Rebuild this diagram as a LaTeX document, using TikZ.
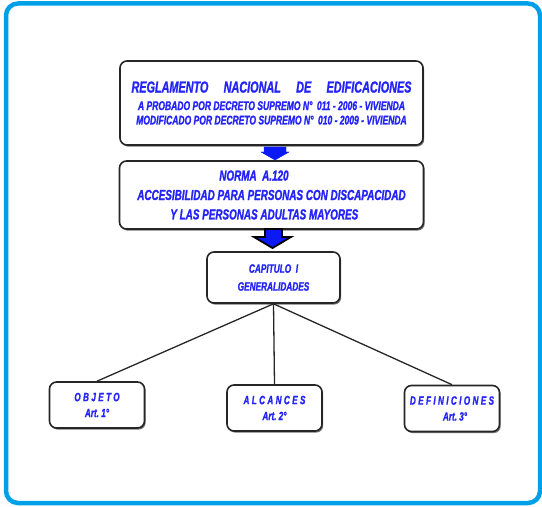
\documentclass[tikz,border=0pt]{standalone}
\usepackage{fontspec}
\newfontfamily\condfont[FakeStretch=0.68, FakeBold=1.2]{Liberation Sans}
\usetikzlibrary{shadows}
\definecolor{framecyan}{RGB}{0,160,233}
\definecolor{titleblue}{RGB}{35,35,250}
\definecolor{arrowblue}{RGB}{10,25,245}

\begin{document}
\begin{tikzpicture}[x=1bp, y=-1bp,
  font=\condfont\bfseries\itshape, text=titleblue,
  box/.style={draw=black!85, line width=1.6bp, rounded corners=7bp, fill=white,
              inner sep=0pt, drop shadow={shadow xshift=1.2bp, shadow yshift=-1.6bp,
              fill=black!55, opacity=1}},
  art/.style={box, align=center, minimum width=95bp, minimum height=46bp,
              font=\condfont\bfseries\itshape\fontsize{12}{16}\selectfont},
  link/.style={draw=black!85, line width=1.3bp},
  blockarr/.style={fill=arrowblue, line join=miter}]
\useasboundingbox (0,0) rectangle (542,507);
\draw[framecyan, line width=4.5bp, rounded corners=12bp] (6,3.5) rectangle (540,503);
% upper chain
\node[box, align=center, minimum width=303bp, minimum height=84bp,
      font=\condfont\bfseries\itshape\fontsize{12.6}{14.5}\selectfont] (rne) at (271.5,103)
  {{\fontsize{16}{16}\selectfont\makebox[280bp][s]{REGLAMENTO NACIONAL DE EDIFICACIONES}}\\[3bp]
   A PROBADO POR DECRETO SUPREMO N°\, 011 - 2006 - VIVIENDA\\
   MODIFICADO POR DECRETO SUPREMO N°\, 010 - 2009 - VIVIENDA};
\node[box, align=left, minimum width=304bp, minimum height=68bp,
      font=\condfont\bfseries\itshape\fontsize{14.6}{19.5}\selectfont] (norma) at (271.5,195)
  {\hspace*{82bp}NORMA\ \ A.120\\
   ACCESIBILIDAD PARA PERSONAS CON DISCAPACIDAD\\
   \hspace*{33bp}Y LAS PERSONAS ADULTAS MAYORES};
\node[box, align=center, minimum width=133bp, minimum height=51bp,
      font=\condfont\bfseries\itshape\fontsize{12.2}{18}\selectfont] (cap) at (273.5,277.5)
  {CAPITULO\ \ I\\GENERALIDADES};
\filldraw[blockarr, draw=arrowblue] (264,147) -- (286,147) -- (286,152) -- (289,152)
  -- (275,160) -- (261,152) -- (264,152) -- cycle;
\filldraw[blockarr, draw=black, line width=1.8bp] (265,229) -- (282,229) -- (282,237)
  -- (291,237) -- (272.5,248) -- (254,237) -- (265,237) -- cycle;
% articles
\node[art] (obj) at (97,405) {{\addfontfeature{LetterSpace=20}OBJETO}\\Art.\ 1°};
\node[art] (alc) at (274.5,408) {{\addfontfeature{LetterSpace=20}ALCANCES}\\Art.\ 2°};
\node[art] (def) at (452,408.5) {{\addfontfeature{LetterSpace=20}DEFINICIONES}\\\hspace*{6bp}Art.\ 3°};
\draw[link] (cap.south) -- (obj.north);
\draw[link] (cap.south) -- (alc.north);
\draw[link] (cap.south) -- (def.north);
\end{tikzpicture}
\end{document}
